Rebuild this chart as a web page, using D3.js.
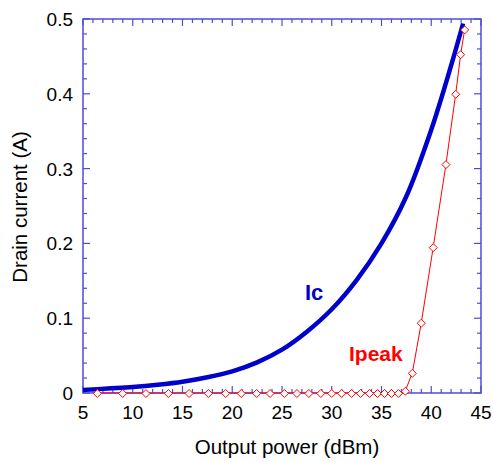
<!DOCTYPE html>
<html>
<head>
<meta charset="utf-8">
<script src="https://cdnjs.cloudflare.com/ajax/libs/d3/7.8.5/d3.min.js"></script>
<style>
  body { margin: 0; background: #fff; }
  text { font-family: Arial, "Liberation Sans", sans-serif; }
</style>
</head>
<body>
<div id="chart"></div>
<script>
// Ic (thick blue)
var icPower   = [5, 7.5, 10, 12.5, 15, 17.5, 20, 22.5, 25, 27.5, 30, 32.5, 35, 37.5, 40, 42, 43.2];
var icCurrent = [0.004, 0.006, 0.008, 0.011, 0.015, 0.021, 0.029, 0.041, 0.058, 0.082, 0.112, 0.151, 0.200, 0.263, 0.352, 0.438, 0.494];

// Ipeak (red diamonds)
var ipPower   = [6.44, 8.99, 11.33, 13.58, 15.66, 17.6, 19.34, 20.9, 22.45, 23.8, 25.24, 26.5, 27.7, 28.9, 30.0,
                 31.0, 32.0, 32.9, 33.8, 34.6, 35.3, 36.0, 36.7, 37.4, 38.1, 39.0, 40.2, 41.48, 42.46, 42.96, 43.36];
var ipCurrent = [0, 0, 0, 0, 0, 0, 0, 0, 0, 0, 0, 0, 0, 0, 0,
                 0, 0, 0, 0, 0, 0, 0, 0, 0.003, 0.027, 0.094, 0.195, 0.306, 0.400, 0.453, 0.486];

var xTicks = [5, 10, 15, 20, 25, 30, 35, 40, 45];
var yTicks = [0, 0.1, 0.2, 0.3, 0.4, 0.5];

var w = 493, h = 462;
var axisColor = "#4d4dd9";

var svg = d3.select("#chart").append("svg")
    .attr("width", w)
    .attr("height", h);

var x = d3.scaleLinear().domain([5, 45]).range([83, 481]);
var y = d3.scaleLinear().domain([0, 0.5]).range([393, 19]);

// frame
svg.append("rect")
    .attr("x", x(5))
    .attr("y", y(0.5))
    .attr("width", x(45) - x(5))
    .attr("height", y(0) - y(0.5))
    .attr("fill", "none")
    .attr("stroke", axisColor)
    .attr("stroke-width", 1.5);

// minor / major ticks on all four sides (inside)
var xMinor = d3.range(5, 45.01, 1);
var yMinor = d3.range(0, 0.5001, 0.02);
var ticks = svg.append("g").attr("stroke", axisColor).attr("stroke-width", 1.2);

xMinor.forEach(function(v) {
  var len = (Math.round(v) % 5 === 0) ? 7 : 4;
  ticks.append("line").attr("x1", x(v)).attr("x2", x(v)).attr("y1", y(0)).attr("y2", y(0) - len);
  ticks.append("line").attr("x1", x(v)).attr("x2", x(v)).attr("y1", y(0.5)).attr("y2", y(0.5) + len);
});
yMinor.forEach(function(v, i) {
  var len = (i % 5 === 0) ? 7 : 4;
  ticks.append("line").attr("y1", y(v)).attr("y2", y(v)).attr("x1", x(5)).attr("x2", x(5) + len);
  ticks.append("line").attr("y1", y(v)).attr("y2", y(v)).attr("x1", x(45)).attr("x2", x(45) - len);
});

// tick labels
svg.append("g").selectAll("text")
    .data(xTicks)
    .enter().append("text")
    .attr("x", function(d) { return x(d); })
    .attr("y", 419)
    .attr("text-anchor", "middle")
    .attr("font-size", 19)
    .text(function(d) { return d; });

svg.append("g").selectAll("text")
    .data(yTicks)
    .enter().append("text")
    .attr("x", 73)
    .attr("y", function(d) { return y(d) + 7; })
    .attr("text-anchor", "end")
    .attr("font-size", 19)
    .text(function(d) { return d; });

// axis titles
svg.append("text")
    .attr("x", 287)
    .attr("y", 454)
    .attr("text-anchor", "middle")
    .attr("font-size", 20.5)
    .text("Output power (dBm)");

svg.append("text")
    .attr("transform", "translate(27,207) rotate(-90)")
    .attr("text-anchor", "middle")
    .attr("font-size", 20.5)
    .text("Drain current (A)");

// Ic curve
var icData = icPower.map(function(p, i) { return [p, icCurrent[i]]; });
svg.append("path")
    .datum(icData)
    .attr("fill", "none")
    .attr("stroke", "#0000cc")
    .attr("stroke-width", 4.5)
    .attr("d", d3.line()
        .x(function(d) { return x(d[0]); })
        .y(function(d) { return y(d[1]); })
        .curve(d3.curveCatmullRom));

// Ipeak line + diamonds
var ipData = ipPower.map(function(p, i) { return [p, ipCurrent[i]]; });
svg.append("path")
    .datum(ipData)
    .attr("fill", "none")
    .attr("stroke", "#ff0000")
    .attr("stroke-width", 1)
    .attr("d", d3.line()
        .x(function(d) { return x(d[0]); })
        .y(function(d) { return y(d[1]); }));

svg.append("g").selectAll("path")
    .data(ipData)
    .enter().append("path")
    .attr("transform", function(d) { return "translate(" + x(d[0]) + "," + (y(d[1]) + 0.5) + ")"; })
    .attr("d", "M0,-4L4,0L0,4L-4,0Z")
    .attr("fill", "#fff")
    .attr("stroke", "#ff0000")
    .attr("stroke-width", 1);

// series labels
svg.append("text")
    .attr("x", 305)
    .attr("y", 300)
    .attr("font-size", 22)
    .attr("font-weight", "bold")
    .attr("fill", "#0000cc")
    .text("Ic");

svg.append("text")
    .attr("x", 349)
    .attr("y", 361)
    .attr("font-size", 21)
    .attr("font-weight", "bold")
    .attr("fill", "#ff0000")
    .text("Ipeak");
</script>
</body>
</html>
